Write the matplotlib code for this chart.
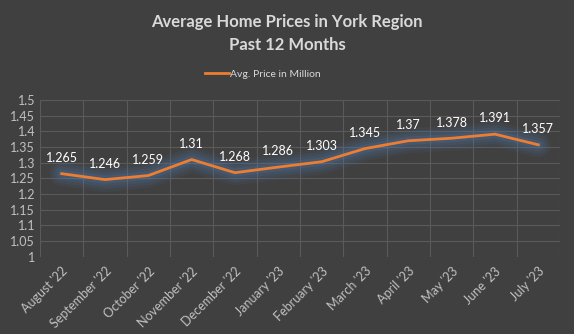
import matplotlib
matplotlib.use("Agg")
from matplotlib import pyplot as plt
import numpy as np

months = ["August '22", "September '22", "October '22", "November '22",
          "December '22", "January '23", "February '23", "March '23",
          "April '23", "May '23", "June '23", "July '23"]
prices = [1.265, 1.246, 1.259, 1.31, 1.268, 1.286, 1.303,
          1.345, 1.37, 1.378, 1.391, 1.357]
yticks = [1, 1.05, 1.1, 1.15, 1.2, 1.25, 1.3, 1.35, 1.4, 1.45, 1.5]

bg = "#404040"
plt.rcParams['font.family'] = ['Lato', 'DejaVu Sans']

fig = plt.figure(figsize=(5.74, 3.34), dpi=100, facecolor=bg)
ax = fig.add_axes([40 / 574, 1 - 256.7 / 334, 520 / 574, 156.7 / 334])
ax.set_facecolor(bg)

x = np.arange(len(months))

# soft blue glow under the line
for lw, a in [(18, 0.08), (14, 0.10), (10, 0.13), (6, 0.18)]:
    ax.plot(x, prices, color="#4f7fb5", lw=lw, alpha=a,
            solid_capstyle="round", solid_joinstyle="round", zorder=2)
line, = ax.plot(x, prices, color="#ED7D31", lw=2, zorder=3,
                label="Avg. Price in Million")

for xi, p in zip(x, prices):
    ax.annotate(f"{p:g}", (xi, p), xytext=(0, 7), textcoords="offset points",
                ha="center", va="bottom", color="white", fontsize=9, zorder=4)

ax.set_xlim(-0.5, len(months) - 0.5)
ax.set_ylim(1, 1.5)
ax.set_yticks(yticks)
ax.set_yticklabels([f"{t:g}" for t in yticks])
ax.set_xticks(x)
ax.set_xticklabels(months, rotation=45, ha="right", rotation_mode="anchor")
ax.set_xticks(np.arange(-0.5, len(months), 1), minor=True)

ax.grid(axis="y", color="#5a5a5a", lw=0.8)
ax.grid(axis="x", which="minor", color="#5a5a5a", lw=0.8)
ax.set_axisbelow(True)
ax.tick_params(axis="both", which="both", length=0, colors="#c0c0c0",
               labelsize=9)
ax.tick_params(axis="x", pad=6)
for s in ax.spines.values():
    s.set_visible(False)

fig.text(0.5, 1 - 22 / 334, "Average Home Prices in York Region",
         ha="center", va="center", color="#d9d9d9", fontsize=12,
         fontweight="bold")
fig.text(0.5, 1 - 45 / 334, "Past 12 Months",
         ha="center", va="center", color="#d9d9d9", fontsize=12,
         fontweight="bold")
fig.legend(handles=[line], loc="center", bbox_to_anchor=(0.458, 1 - 74 / 334),
           frameon=False, fontsize=7.5, labelcolor="#d9d9d9",
           handlelength=2.3, handletextpad=0.15)

plt.savefig("out.png", dpi=100, facecolor=bg)
